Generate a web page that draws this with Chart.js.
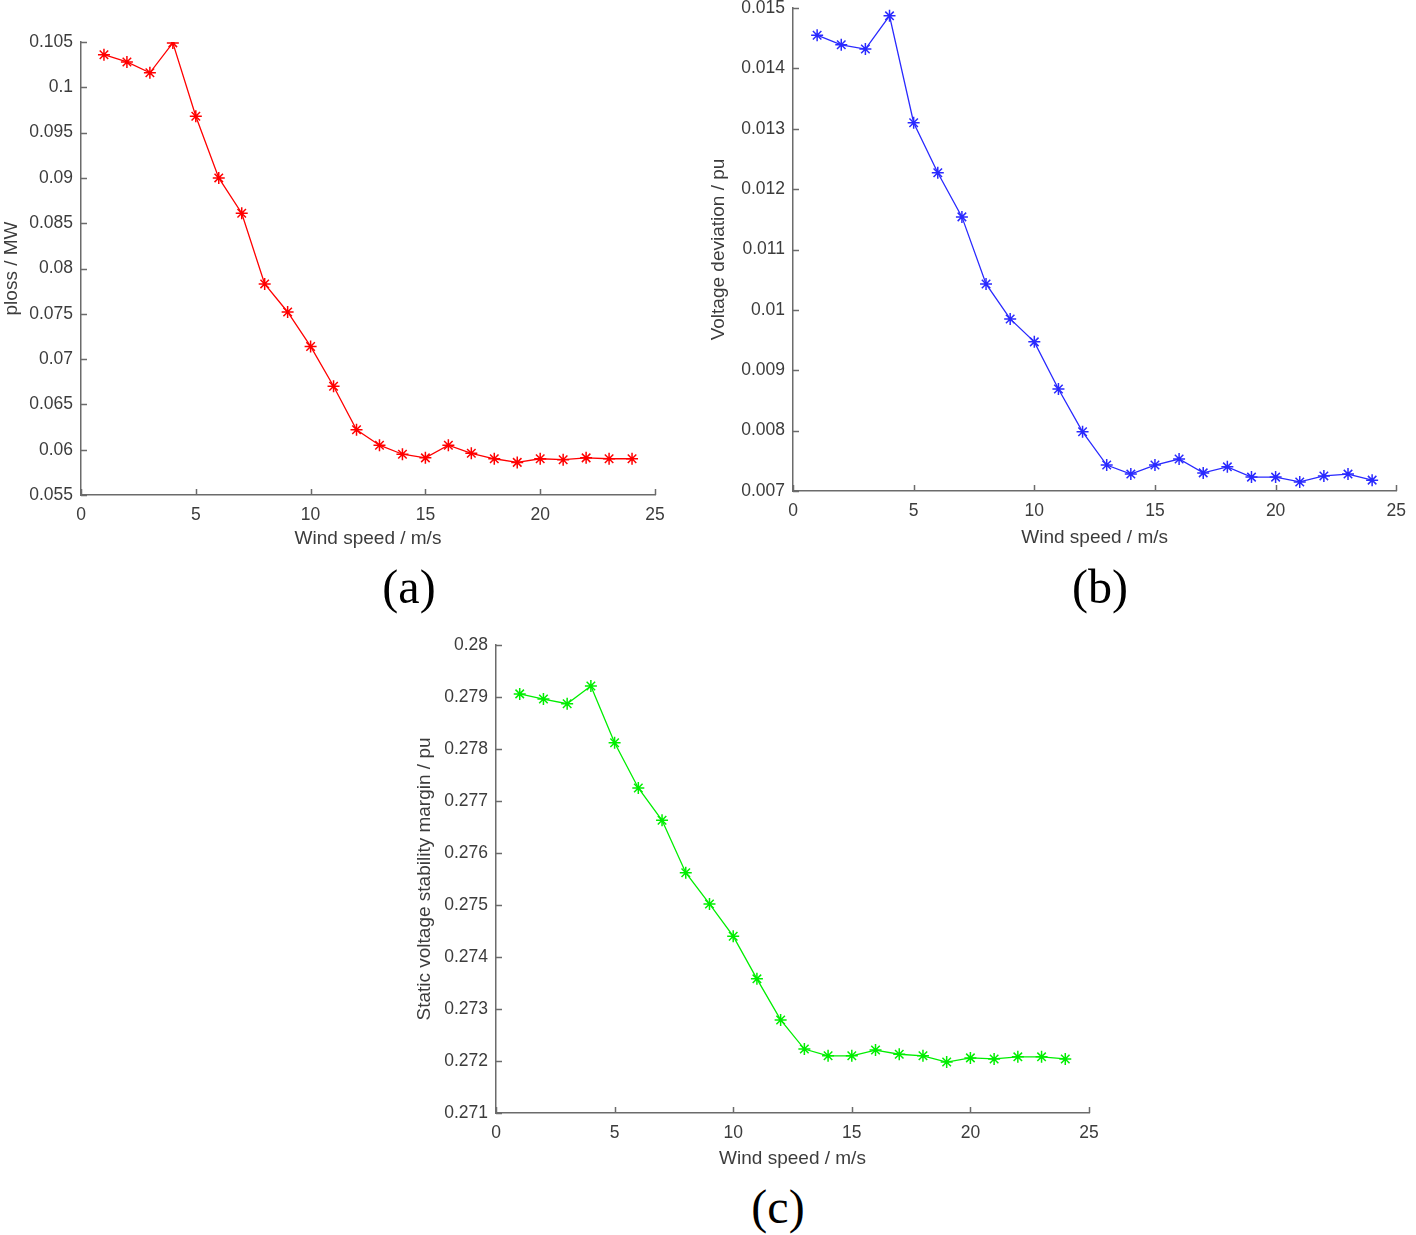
<!DOCTYPE html>
<html>
<head>
<meta charset="utf-8">
<script src="https://cdn.jsdelivr.net/npm/chart.js@4/dist/chart.umd.min.js"></script>
<style>
    body { margin: 0; background: #fff; }
    #wrap { position: relative; width: 1416px; height: 1235px; overflow: hidden; background: #fff; }
    canvas { position: absolute; }
    .lbl {
        position: absolute;
        font-family: "Liberation Serif", "Times New Roman", serif;
        font-size: 48px;
        line-height: 1;
        color: #000;
        transform: translate(-50%, -50%);
    }
</style>
</head>
<body>
<div id="wrap">
    <canvas id="chartA" style="left:0px; top:0px;"></canvas>
    <canvas id="chartB" style="left:707px; top:-30px;"></canvas>
    <canvas id="chartC" style="left:413px; top:600px;"></canvas>
    <div class="lbl" style="left:409px; top:587px;">(a)</div>
    <div class="lbl" style="left:1100px; top:587px;">(b)</div>
    <div class="lbl" style="left:778px; top:1207px;">(c)</div>
</div>
<script>
// velocidade do vento (eixo x)
const velocidades = [1, 2, 3, 4, 5, 6, 7, 8, 9, 10, 11, 12, 13, 14, 15, 16, 17, 18, 19, 20, 21, 22, 23, 24];

// (a) perdas
const ploss = [0.1036, 0.1028, 0.1016, 0.1049, 0.0968, 0.0900, 0.0861, 0.0783, 0.0752, 0.0714,
    0.0670, 0.0622, 0.0605, 0.0595, 0.0591, 0.0605, 0.0596, 0.0590, 0.0586, 0.0590,
    0.0589, 0.0591, 0.0590, 0.0590];

// (b) desvio de tensão
const desvioTensao = [0.01455, 0.01439, 0.01432, 0.01487, 0.01310, 0.01227, 0.01154, 0.01043, 0.00985, 0.00947,
    0.00869, 0.00798, 0.00743, 0.00728, 0.00743, 0.00753, 0.00730, 0.00740, 0.00723, 0.00723,
    0.00715, 0.00725, 0.00728, 0.00718];

// (c) margem de estabilidade
const margemEstabilidade = [0.27906, 0.27896, 0.27887, 0.27921, 0.27812, 0.27725, 0.27663, 0.27562, 0.27502, 0.27440,
    0.27358, 0.27279, 0.27223, 0.27210, 0.27210, 0.27221, 0.27213, 0.27210, 0.27198, 0.27206,
    0.27204, 0.27208, 0.27208, 0.27204];

// limites dos eixos
const eixoX = { min: 0, max: 25, passo: 5 };
const eixoA = { min: 0.055, max: 0.105, passo: 0.005 };
const eixoB = { min: 0.007, max: 0.015, passo: 0.001 };
const eixoC = { min: 0.271, max: 0.28, passo: 0.001 };

const corEixo = '#6b6b6b';
const corTexto = '#3c3c3c';
const fonteTicks = { family: '"Liberation Sans", Arial, sans-serif', size: 17.5 };
const fonteTitulo = { family: '"Liberation Sans", Arial, sans-serif', size: 19 };

// marcas de escala para dentro, como no MATLAB
const ticksParaDentro = {
    id: 'ticksParaDentro',
    afterDraw(chart) {
        const ctx = chart.ctx;
        const area = chart.chartArea;
        ctx.save();
        ctx.strokeStyle = corEixo;
        ctx.lineWidth = 1.5;
        chart.scales.x.ticks.forEach(t => {
            const px = Math.round(chart.scales.x.getPixelForValue(t.value)) + 0.5;
            ctx.beginPath();
            ctx.moveTo(px, area.bottom);
            ctx.lineTo(px, area.bottom - 6);
            ctx.stroke();
        });
        chart.scales.y.ticks.forEach(t => {
            const py = Math.round(chart.scales.y.getPixelForValue(t.value)) + 0.5;
            ctx.beginPath();
            ctx.moveTo(area.left, py);
            ctx.lineTo(area.left + 6, py);
            ctx.stroke();
        });
        ctx.restore();
    }
};

function criarGrafico(id, largura, altura, valores, cor, eixoY, tituloY, yLargura, xAltura, padding) {
    const canvas = document.getElementById(id);
    canvas.width = largura;
    canvas.height = altura;
    canvas.style.width = largura + 'px';
    canvas.style.height = altura + 'px';

    const pontos = velocidades.map((v, i) => ({ x: v, y: valores[i] }));

    return new Chart(canvas.getContext('2d'), {
        type: 'line',
        data: {
            datasets: [{
                data: pontos,
                borderColor: cor,
                backgroundColor: cor,
                borderWidth: 1.3,
                pointStyle: 'star',
                pointRadius: 6,
                pointBorderWidth: 1.5,
                pointBorderColor: cor,
                tension: 0,
            }],
        },
        options: {
            responsive: false,
            animation: false,
            layout: { padding: padding },
            plugins: { legend: { display: false }, tooltip: { enabled: false } },
            scales: {
                x: {
                    type: 'linear',
                    min: eixoX.min,
                    max: eixoX.max,
                    grid: { display: false, drawTicks: false },
                    border: { display: true, color: corEixo, width: 1.5 },
                    ticks: { stepSize: eixoX.passo, color: corTexto, font: fonteTicks, padding: 10, maxRotation: 0 },
                    title: { display: true, text: 'Wind speed / m/s', color: corTexto, font: fonteTitulo, padding: { top: 0, bottom: 0 } },
                    afterFit: s => { s.height = xAltura; },
                },
                y: {
                    min: eixoY.min,
                    max: eixoY.max,
                    grid: { display: false, drawTicks: false },
                    border: { display: true, color: corEixo, width: 1.5 },
                    ticks: {
                        stepSize: eixoY.passo,
                        color: corTexto,
                        font: fonteTicks,
                        padding: 8,
                        callback: v => String(+v.toFixed(5)),
                    },
                    title: { display: true, text: tituloY, color: corTexto, font: fonteTitulo, padding: { top: 0, bottom: 0 } },
                    afterFit: s => { s.width = yLargura; },
                },
            },
        },
        plugins: [ticksParaDentro],
    });
}

criarGrafico('chartA', 680, 550, ploss, '#ff0000', eixoA, 'ploss / MW', 81, 55,
    { top: 42, right: 25, bottom: 0, left: 0 });
criarGrafico('chartB', 709, 579, desvioTensao, '#2a2aff', eixoB, 'Voltage deviation / pu', 86, 58,
    { top: 38, right: 13, bottom: 0, left: 0 });
criarGrafico('chartC', 707, 570, margemEstabilidade, '#00ee00', eixoC, 'Static voltage stability margin / pu', 83, 57,
    { top: 45, right: 31, bottom: 0, left: 0 });
</script>
</body>
</html>
